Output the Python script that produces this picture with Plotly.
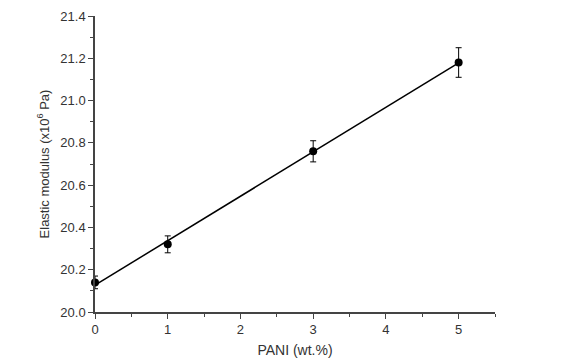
import numpy as np
import plotly.graph_objects as go

pani = [0, 1, 3, 5]
modulus = [20.14, 20.32, 20.76, 21.18]
modulus_err = [0.03, 0.04, 0.05, 0.07]

# linear fit through the measured points
slope, intercept = np.polyfit(pani, modulus, 1)
fit_x = [pani[0], pani[-1]]
fit_y = [slope * x + intercept for x in fit_x]

fig = go.Figure()
fig.add_trace(go.Scatter(
    x=fit_x, y=fit_y, mode="lines",
    line=dict(color="black", width=1.5),
    showlegend=False, hoverinfo="skip", cliponaxis=False,
))
fig.add_trace(go.Scatter(
    x=pani, y=modulus, mode="markers",
    marker=dict(color="black", size=8),
    error_y=dict(type="data", array=modulus_err, color="black", thickness=1, width=3),
    showlegend=False, cliponaxis=False,
))

font_name = "Liberation Sans, Arial, sans-serif"
axis_font = dict(family=font_name, size=13, color="#333")
fig.update_xaxes(
    range=[0, 5.5], tickvals=[0, 1, 2, 3, 4, 5],
    showline=True, linecolor="#444", linewidth=1.5, mirror=False,
    ticks="outside", ticklen=5, tickwidth=1.2, tickcolor="#444",
    minor=dict(tickvals=[0.5, 1.5, 2.5, 3.5, 4.5, 5.5], ticks="outside", ticklen=3, tickcolor="#444", tickwidth=1),
    showgrid=False, zeroline=False, tickfont=axis_font, automargin=False,
    title=dict(text="PANI (wt.%)", font=dict(family=font_name, size=14, color="#333"), standoff=9),
)
fig.update_yaxes(
    range=[20.0, 21.4], tickvals=[20.0, 20.2, 20.4, 20.6, 20.8, 21.0, 21.2, 21.4],
    tickformat=".1f",
    showline=True, linecolor="#444", linewidth=1.5, mirror=False,
    ticks="outside", ticklen=5, tickwidth=1.2, tickcolor="#444",
    minor=dict(tickvals=[20.1, 20.3, 20.5, 20.7, 20.9, 21.1, 21.3], ticks="outside", ticklen=3, tickcolor="#444", tickwidth=1),
    showgrid=False, zeroline=False, tickfont=axis_font, automargin=False,
    title=dict(text="Elastic modulus (x10<sup>6</sup> Pa)", font=dict(family=font_name, size=13, color="#333"), standoff=8),
)
# the page body adds an 8px offset, so the figure is drawn 8px smaller
fig.update_layout(
    width=568, height=351,
    margin=dict(l=87, r=81, t=8, b=47),
    plot_bgcolor="white", paper_bgcolor="white",
)
fig.write_html("out.html")
